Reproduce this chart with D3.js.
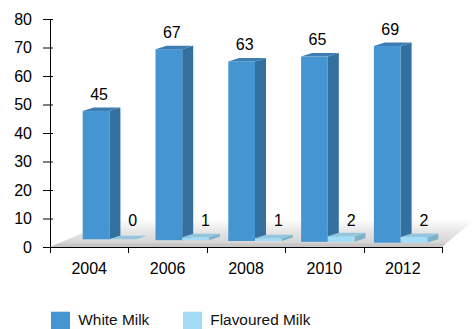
<!DOCTYPE html>
<html>
<head>
<meta charset="utf-8">
<script src="https://cdn.jsdelivr.net/npm/d3@7"></script>
<style>
  html, body { margin: 0; padding: 0; background: #fff; }
  svg { display: block; font-family: "Liberation Sans", Arial, sans-serif; }
</style>
</head>
<body>
<svg id="chart" width="475" height="329"></svg>
<script>
const categories = ["2004", "2006", "2008", "2010", "2012"];
const whiteMilk = [45, 67, 63, 65, 69];
const flavouredMilk = [0, 1, 1, 2, 2];
const yTicks = [0, 10, 20, 30, 40, 50, 60, 70, 80];
const seriesNames = ["White Milk", "Flavoured Milk"];

const svg = d3.select("#chart");

const y = d3.scaleLinear().domain([0, 80]).range([247, 19]);
const x = d3.scaleBand().domain(categories).range([50, 442]);
// perspective-compressed positions for the 3D columns
const xBar = d3.scaleBand().domain(categories).range([70, 434]);

const depthX = 11, depthY = -3.5;
const barW = 26.7;
const colors = {
  white: { front: "#4595d2", side: "#336f9f", top: "#3d7db4" },
  flav: { front: "#a3dcf6", side: "#7fb2ca", top: "#93c6dc" }
};

// floor
const defs = svg.append("defs");
const grad = defs.append("linearGradient").attr("id", "floorGrad")
  .attr("x1", 0).attr("y1", 1).attr("x2", 0).attr("y2", 0);
grad.append("stop").attr("offset", "0%").attr("stop-color", "#cfcfcf");
grad.append("stop").attr("offset", "55%").attr("stop-color", "#e6e6e6");
grad.append("stop").attr("offset", "100%").attr("stop-color", "#ffffff");

const floorY0 = y(0), floorY1 = 219;
svg.append("path")
  .attr("d", `M50,${floorY0} L442,${floorY0} L475,${floorY1} L115,${floorY1} Z`)
  .attr("fill", "url(#floorGrad)");
svg.append("path")
  .attr("d", `M50,${floorY0} L442,${floorY0} L446,${floorY0 - 3.5} L58,${floorY0 - 3.5} Z`)
  .attr("fill", "#c2c2c2").attr("opacity", 0.7);

// bars
function box(g, x0, base, h, c) {
  const topY = base - h;
  g.append("path")
    .attr("d", `M${x0 + barW},${base} L${x0 + barW + depthX},${base + depthY} L${x0 + barW + depthX},${topY + depthY} L${x0 + barW},${topY} Z`)
    .attr("fill", c.side);
  g.append("rect").attr("x", x0).attr("y", topY).attr("width", barW).attr("height", Math.max(h, 0.01))
    .attr("fill", c.front);
  g.append("path")
    .attr("d", `M${x0},${topY} L${x0 + depthX},${topY + depthY} L${x0 + barW + depthX},${topY + depthY} L${x0 + barW},${topY} Z`)
    .attr("fill", c.top);
}

const bars = svg.append("g");
categories.forEach((cat, i) => {
  const base = 239.3 + 0.85 * i;
  const g = bars.append("g");
  const wx = xBar(cat) + 12.7;
  const wh = y(0) - y(whiteMilk[i]);
  box(g, wx, base, wh, colors.white);
  const fx = wx + barW;
  const fh = y(0) - y(flavouredMilk[i]);
  box(g, fx, base, fh, colors.flav);

  g.append("text").attr("x", wx + barW / 2 + 3).attr("y", base - wh - 11.5)
    .attr("text-anchor", "middle").attr("font-size", 16).attr("fill", "#000")
    .text(whiteMilk[i]);
  g.append("text").attr("x", fx + barW / 2 + 10).attr("y", 225.7)
    .attr("text-anchor", "middle").attr("font-size", 16).attr("fill", "#000")
    .text(flavouredMilk[i]);
});

// y axis
const yAxis = svg.append("g").attr("transform", "translate(50,0)")
  .call(d3.axisLeft(y).tickValues(yTicks).tickSize(7).tickSizeOuter(0).tickPadding(11));
yAxis.select(".domain").attr("stroke", "#000").attr("d", `M0.5,${y(80)}V${y(0)}`);
yAxis.selectAll(".tick line").attr("x1", 3).attr("x2", -7).attr("stroke", "#000");
yAxis.selectAll(".tick text").attr("font-size", 16).attr("fill", "#000")
  .attr("font-family", "Liberation Sans, Arial, sans-serif");

// x axis
const xAxis = svg.append("g").attr("transform", `translate(0,${y(0)})`)
  .call(d3.axisBottom(x).tickSize(0).tickSizeOuter(0).tickPadding(16));
xAxis.select(".domain").attr("stroke", "#000");
xAxis.selectAll(".tick text").attr("font-size", 16).attr("fill", "#000")
  .attr("font-family", "Liberation Sans, Arial, sans-serif");
const boundaries = categories.map(c => x(c)).concat([x.range()[1]]);
xAxis.selectAll(".bnd").data(boundaries).enter().append("line")
  .attr("x1", d => Math.round(d) + 0.5).attr("x2", d => Math.round(d) + 0.5)
  .attr("y1", 0).attr("y2", 6).attr("stroke", "#000");

// legend
const legend = svg.append("g");
const legendX = [51, 183];
seriesNames.forEach((name, i) => {
  legend.append("rect").attr("x", legendX[i]).attr("y", 311.7).attr("width", 19).attr("height", 19)
    .attr("fill", i === 0 ? "#4495d1" : "#a4dcf7");
  legend.append("text").attr("x", legendX[i] + 27.3).attr("y", 325.3)
    .attr("font-size", 15.4).attr("fill", "#111").text(name);
});
</script>
</body>
</html>
